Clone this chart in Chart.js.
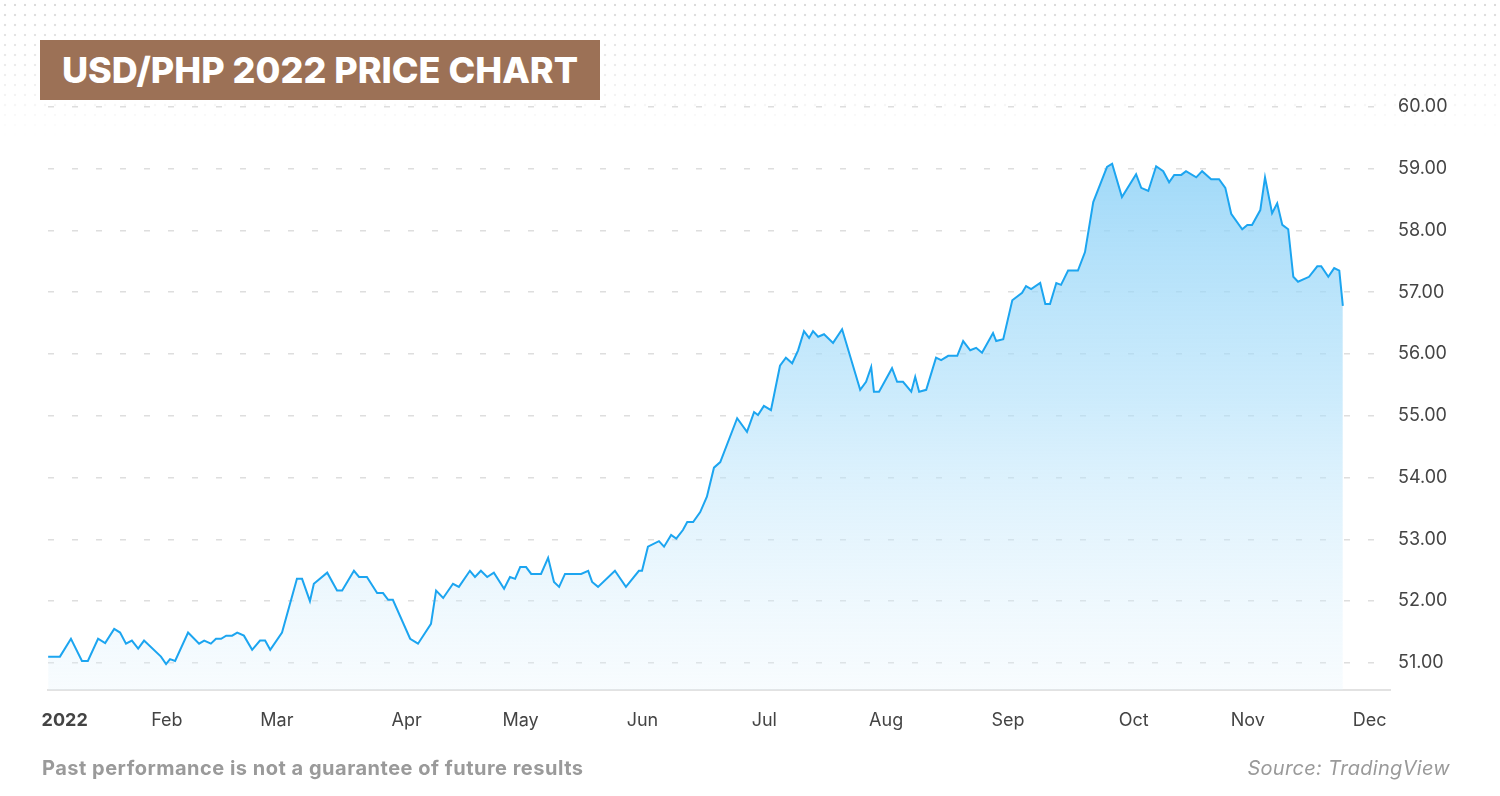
<!DOCTYPE html>
<html><head><meta charset="utf-8">
<script src="https://cdn.jsdelivr.net/npm/chart.js@4"></script>
<style>
html,body{margin:0;padding:0;background:#fff;}
#wrap{position:relative;width:1500px;height:796px;overflow:hidden;font-family:Inter,"Open Sans",sans-serif;}
#dots{position:absolute;left:0;top:0;width:1500px;height:140px;
 background-image:radial-gradient(circle,#d6d6d6 1.2px,transparent 1.6px);background-size:10px 10px;
 -webkit-mask-image:linear-gradient(to bottom,rgba(0,0,0,0.9),rgba(0,0,0,0));mask-image:linear-gradient(to bottom,rgba(0,0,0,0.9),rgba(0,0,0,0));}
#title{position:absolute;left:40px;top:40px;width:560px;height:60px;background:#9c7156;color:#fff;
 font-weight:800;font-size:36px;line-height:60px;text-align:center;letter-spacing:0px;}
canvas{position:absolute;left:0;top:0;}
#foot1{position:absolute;left:42px;top:756px;color:#9a9a9a;font-weight:700;font-size:20px;letter-spacing:0.5px;}
#foot2{position:absolute;right:50px;top:756px;color:#9a9a9a;font-style:italic;font-size:20px;letter-spacing:0.3px;}
</style></head>
<body><div id="wrap"><div id="dots"></div><canvas id="c" width="1500" height="796"></canvas>
<div id="title">USD/PHP 2022 PRICE CHART</div>
<div id="foot1">Past performance is not a guarantee of future results</div>
<div id="foot2">Source: TradingView</div></div>
<script>
const days=[0.8,3.8,6.6,9.4,10.9,13.5,15.3,17.6,19.1,20.6,22.1,23.7,25.2,29.5,30.8,31.8,33.1,36.4,39.2,40.5,42.2,43.5,44.8,46.1,47.6,48.9,50.6,52.7,54.7,56,57.3,60.3,64.1,65.4,67.4,68.4,71.8,74.3,75.6,78.6,79.9,81.9,84.5,86,87.3,88.5,92.9,94.9,98.2,99.5,101.3,103.8,105.3,108.1,109.4,110.9,112.5,114.2,116.8,118.3,119.6,120.9,122.4,123.7,126.2,128,129.5,130.8,132.3,136.4,138.2,139.2,140.7,145,147.8,151.1,151.9,153.4,156.2,
157.5,159.3,160.6,162.3,163.4,164.9,166.7,168.4,170.2,171.8,176.1,178.6,180.4,181.4,182.9,184.7,185.5,187,188.5,190.1,191.6,193.1,194.4,195.4,196.7,198.2,200.5,202.8,207.4,208.9,210.2,210.9,212.2,215.5,216.8,218.3,220.4,221.4,222.4,224.2,226.7,228,229.8,232.1,233.6,235.4,236.9,238.4,241.2,242,243.8,246.1,
248.6,249.6,250.9,253.2,254.5,255.7,257.3,258.5,260.3,262.8,264.6,266.7,270.2,271.5,274,277.6,278.9,280.7,282.7,284.5,286,287.3,289.1,290.3,292.9,294.4,296.7,298.7,300.3,301.8,304.6,305.9,307.1,309.2,310.4,312.2,313.5,314.8,316.3,317.6,318.8,321.6,323.7,324.7,326.5,328,329.3,330.2];
const rates=[51.10,51.10,51.39,51.03,51.03,51.39,51.32,51.55,51.49,51.31,51.36,51.23,51.36,51.10,50.98,51.06,51.03,51.49,51.31,51.36,51.31,51.39,51.39,51.44,51.44,51.49,51.44,51.21,51.36,51.36,51.21,51.49,52.36,52.36,52.00,52.28,52.46,52.17,52.17,52.49,52.39,52.39,52.13,52.13,52.02,52.02,51.39,51.31,51.63,52.17,52.05,52.28,52.23,52.49,52.39,52.49,52.39,52.46,52.20,52.39,52.36,52.55,52.55,52.44,52.44,52.70,52.31,52.23,52.44,52.44,52.49,52.31,52.23,52.49,52.23,52.49,52.49,52.88,52.97,
52.88,53.07,53.01,53.15,53.28,53.28,53.44,53.69,54.16,54.25,54.96,54.74,55.06,55.01,55.16,55.09,55.34,55.81,55.94,55.85,56.06,56.37,56.26,56.37,56.28,56.32,56.18,56.40,55.42,55.55,55.79,55.39,55.39,55.77,55.55,55.55,55.39,55.63,55.39,55.42,55.94,55.90,55.97,55.97,56.21,56.06,56.10,56.02,56.34,56.21,56.24,56.87,
56.99,57.10,57.05,57.15,56.81,56.81,57.15,57.12,57.35,57.35,57.65,58.46,59.03,59.08,58.54,58.91,58.69,58.64,59.04,58.96,58.78,58.90,58.90,58.96,58.86,58.96,58.83,58.83,58.69,58.27,58.02,58.09,58.09,58.33,58.86,58.28,58.44,58.09,58.02,57.25,57.17,57.25,57.42,57.42,57.25,57.39,57.35,56.78];
const monthTicks=[5,31,59,92,121,152,183,214,245,277,306,337];
const monthLabels=["2022","Feb","Mar","Apr","May","Jun","Jul","Aug","Sep","Oct","Nov","Dec"];
const yTicks=[51,52,53,54,55,56,57,58,59,60];

const pts=days.map((d,i)=>({x:d,y:rates[i]}));
new Chart(document.getElementById('c'),{
 type:'line',
 data:{datasets:[{data:pts,borderColor:'#1ca5f0',borderWidth:2,pointRadius:0,tension:0,fill:'start',
  backgroundColor:(ctx)=>{const a=ctx.chart.chartArea;if(!a)return 'rgba(140,210,248,0.5)';
   const g=ctx.chart.ctx.createLinearGradient(0,a.top,0,a.bottom);
   g.addColorStop(0,'rgba(128,204,246,0.85)');g.addColorStop(0.5,'rgba(170,222,250,0.6)');g.addColorStop(1,'rgba(225,242,252,0.25)');return g;}}]},
 options:{responsive:false,animation:false,
  layout:{padding:{left:48,top:102,right:0,bottom:0}},
  plugins:{legend:{display:false},tooltip:{enabled:false}},
  scales:{
   x:{type:'linear',min:0.76,max:342.2,
    afterBuildTicks:s=>{s.ticks=monthTicks.map(v=>({value:v}));},
    afterFit:s=>{s.height=106;},
    grid:{display:false,drawTicks:false},
    border:{display:true,color:'#e2e2e2',width:2},
    ticks:{padding:20,maxRotation:0,autoSkip:false,color:'#444',
     font:(c)=>({family:'Inter',size:18,weight:c.index===0?'700':'400'}),
     callback:(v,i)=>monthLabels[i]}},
   y:{position:'right',min:50.56,max:60.08,
    afterBuildTicks:s=>{s.ticks=yTicks.map(v=>({value:v}));},
    afterFit:s=>{s.width=110;},
    grid:{color:'#dedede',lineWidth:1.5,drawTicks:false},
    border:{display:false,dash:[6,18]},
    ticks:{padding:8,color:'#444',font:{family:'Inter',size:18},callback:v=>v.toFixed(2)}}
  }}
});
</script></body></html>
